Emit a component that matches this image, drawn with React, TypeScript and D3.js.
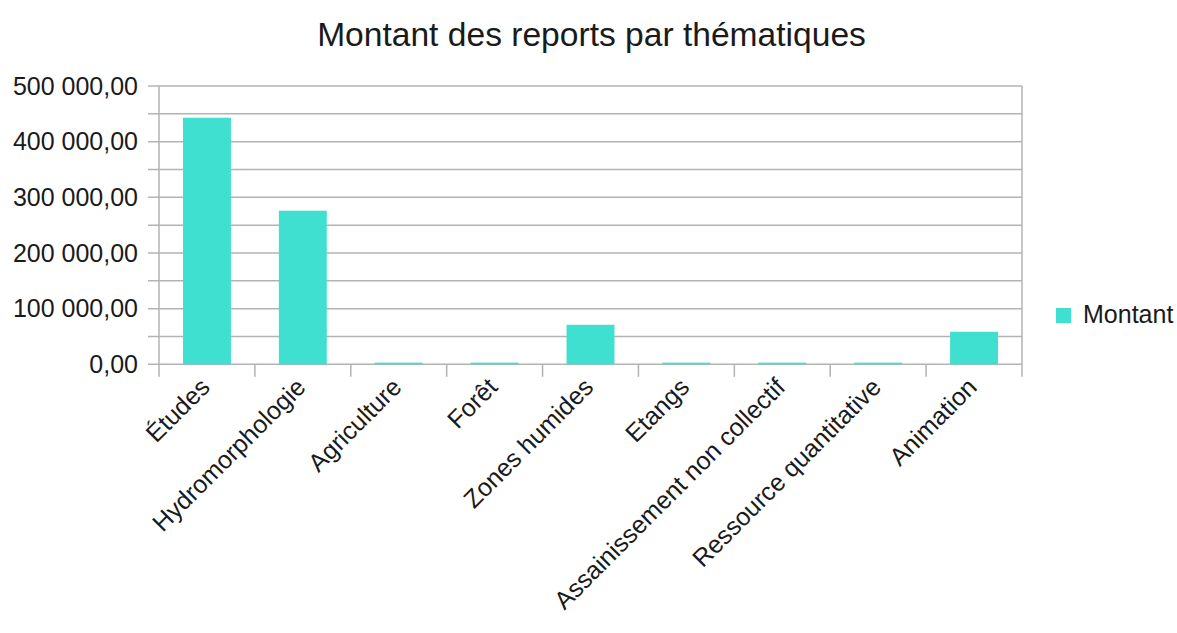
import React from "react";
import * as d3 from "d3";

const categories = [
  "Études",
  "Hydromorphologie",
  "Agriculture",
  "Forêt",
  "Zones humides",
  "Etangs",
  "Assainissement non collectif",
  "Ressource quantitative",
  "Animation",
];
const montant = [443000, 276000, 3000, 3000, 71000, 3000, 3000, 3000, 58500];
const yTicks = [0, 100000, 200000, 300000, 400000, 500000];
const minorTicks = [50000, 150000, 250000, 350000, 450000];
const seriesName = "Montant";
const title = "Montant des reports par thématiques";

const W = 1177;
const H = 633;
const left = 159;
const right = 1022;
const top = 86;
const bottom = 364.3;
const color = "#40e0d0";
const grid = "#b3b3b3";
const font = "'Liberation Sans', Arial, sans-serif";

const fmt = (v: number) => {
  const s = d3.format(",.2f")(v);
  return s.replace(/,/g, " ").replace(".", ",");
};

export default function App() {
  const x = d3.scaleBand<string>().domain(categories).range([left, right]).paddingInner(0.5).paddingOuter(0.25);
  const xb = d3.scaleBand<string>().domain(categories).range([left, right]);
  const y = d3.scaleLinear().domain([0, 500000]).range([bottom, top]);
  const allTicks = [...yTicks, ...minorTicks];
  return (
    <svg width={W} height={H} style={{ position: "absolute", left: 0, top: 0, background: "#fff" }} fontFamily={font}>
      <text x={591.5} y={46} textAnchor="middle" fontSize={33.6} fill="#1a1a1a">
        {title}
      </text>
      {allTicks.map((t) => (
        <line key={"g" + t} x1={148} x2={right} y1={y(t)} y2={y(t)} stroke={grid} strokeWidth={1.5} />
      ))}
      {yTicks.map((t) => (
        <text key={"t" + t} x={138} y={y(t)} dy="0.35em" textAnchor="end" fontSize={25} fill="#1a1a1a">
          {fmt(t)}
        </text>
      ))}
      <line x1={left} x2={left} y1={top} y2={bottom + 12.5} stroke={grid} strokeWidth={1.5} />
      <line x1={right} x2={right} y1={top} y2={bottom + 12.5} stroke={grid} strokeWidth={1.5} />
      {categories.slice(1).map((c) => (
        <line key={"xt" + c} x1={xb(c)!} x2={xb(c)!} y1={bottom} y2={bottom + 12.5} stroke={grid} strokeWidth={1.5} />
      ))}
      {categories.map((c, i) => (
        <rect key={"b" + c} x={x(c)!} width={x.bandwidth()} y={y(montant[i])} height={bottom - y(montant[i])} fill={color} />
      ))}
      {categories.map((c) => {
        const cx = xb(c)! + xb.bandwidth() / 2 - 8;
        return (
          <text key={"l" + c} transform={`translate(${cx},${bottom + 12}) rotate(-45)`} textAnchor="end" fontSize={25} dy="0.7em" fill="#1a1a1a">
            {c}
          </text>
        );
      })}
      <rect x={1056} y={308} width={15} height={15} fill={color} />
      <text x={1083} y={323} fontSize={25} fill="#1a1a1a">
        {seriesName}
      </text>
    </svg>
  );
}
